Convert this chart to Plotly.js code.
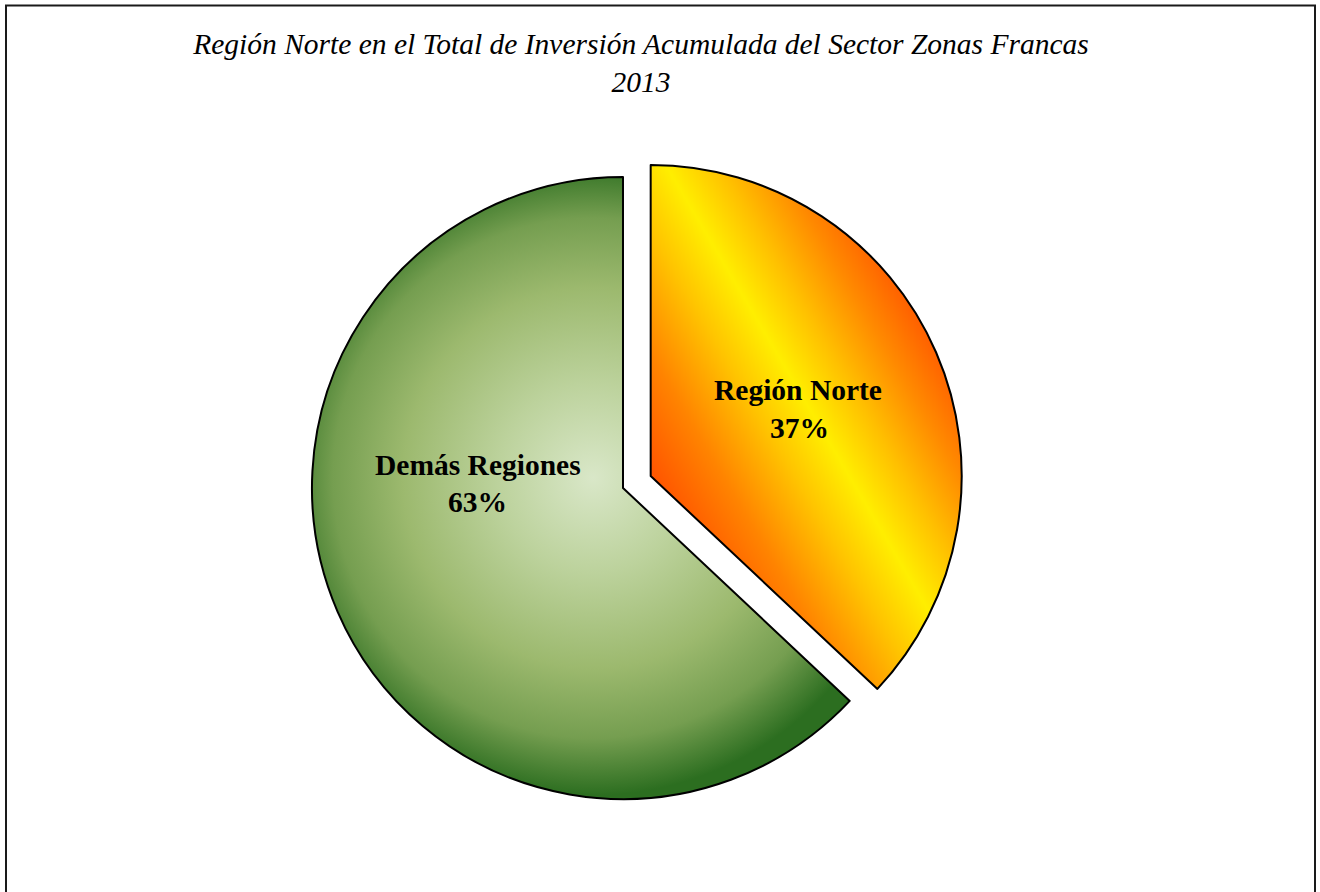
<!DOCTYPE html>
<html>
<head>
<meta charset="utf-8">
<script src="https://cdn.plot.ly/plotly-3.0.1.min.js"></script>
<style>
  html, body { margin: 0; padding: 0; background: #ffffff; }
  #chart { width: 1320px; height: 892px; }
</style>
</head>
<body>
<div id="chart"></div>
<script>
// ---- data ----
var categories = ['Región Norte', 'Demás Regiones'];
var values = [37, 63];
var titleLines = ['Región Norte en el Total de Inversión Acumulada del Sector Zonas Francas', '2013'];

// ---- style ----
var W = 1320, H = 892;
var serif = 'Liberation Serif, Times New Roman, serif';
var baseColors = ['#FFB000', '#9AB86C'];
// label anchor positions (pixels) for each category: [line1 x, line1 y, line2 x, line2 y]
var labelPos = [[798, 390, 799, 428], [478, 465, 477, 502]];

var total = values.reduce(function (a, b) { return a + b; }, 0);
var pcts = values.map(function (v) { return Math.round(v / total * 100) + '%'; });

var annotations = [];
categories.forEach(function (c, i) {
  var p = labelPos[i];
  annotations.push({ x: p[0] / W, y: 1 - p[1] / H, xref: 'paper', yref: 'paper', text: '<b>' + c + '</b>',
    showarrow: false, xanchor: 'center', yanchor: 'middle', font: { family: serif, size: 29.5, color: '#000' } });
  annotations.push({ x: p[2] / W, y: 1 - p[3] / H, xref: 'paper', yref: 'paper', text: '<b>' + pcts[i] + '</b>',
    showarrow: false, xanchor: 'center', yanchor: 'middle', font: { family: serif, size: 29.5, color: '#000' } });
});

var trace = {
  type: 'pie',
  labels: categories,
  values: values,
  sort: false,
  direction: 'clockwise',
  rotation: 0,
  pull: [0.097, 0],
  textinfo: 'none',
  hoverinfo: 'label+percent',
  marker: { colors: baseColors, line: { color: '#000000', width: 2 } },
  domain: { x: [0.21348, 0.73045], y: [0.07040, 0.83543] },
  showlegend: false
};

var layout = {
  width: W, height: H,
  margin: { l: 0, r: 0, t: 0, b: 0 },
  paper_bgcolor: '#ffffff',
  plot_bgcolor: '#ffffff',
  showlegend: false,
  title: {
    text: titleLines.join('<br>'),
    x: 0.4856, xanchor: 'center', xref: 'paper',
    y: 1 - 54 / H, yanchor: 'top', yref: 'container',
    font: { family: serif, size: 29.5, color: '#000', style: 'italic' }
  },
  annotations: annotations,
  shapes: [{
    type: 'rect', xref: 'paper', yref: 'paper',
    x0: 6 / W, x1: 1315 / W, y0: -0.05, y1: 1 - 5.5 / H,
    line: { color: '#1a1a1a', width: 2 }, fillcolor: 'rgba(0,0,0,0)', layer: 'above'
  }]
};

var gd = document.getElementById('chart');
Plotly.newPlot(gd, [trace], layout, { displayModeBar: false, staticPlot: true }).then(function () {
  try {
    var ns = 'http://www.w3.org/2000/svg';
    var svg = gd.querySelector('.main-svg');
    var defs = document.createElementNS(ns, 'defs');
    svg.insertBefore(defs, svg.firstChild);
    var cd = gd.calcdata[0];
    var cx = cd[0].cx, cy = cd[0].cy, r = cd[0].r;
    function stop(g, off, col) {
      var s = document.createElementNS(ns, 'stop');
      s.setAttribute('offset', off); s.setAttribute('stop-color', col); g.appendChild(s);
    }
    // Norte: reflected linear gradient
    var ptN = cd[0];
    var vx = cx + 0.097 * ptN.pxmid[0], vy = cy + 0.097 * ptN.pxmid[1];
    var ux = 0.861, uy = -0.508;
    var gN = document.createElementNS(ns, 'linearGradient');
    gN.setAttribute('id', 'gradNorte');
    gN.setAttribute('gradientUnits', 'userSpaceOnUse');
    gN.setAttribute('x1', vx); gN.setAttribute('y1', vy);
    gN.setAttribute('x2', vx + ux * r); gN.setAttribute('y2', vy + uy * r);
    stop(gN, 0, '#FF5400'); stop(gN, 0.2, '#FF8400'); stop(gN, 0.4, '#FFC400'); stop(gN, 0.55, '#FFEE00');
    stop(gN, 0.7, '#FFC000'); stop(gN, 0.86, '#FF8A00'); stop(gN, 1, '#FF6000');
    defs.appendChild(gN);
    // Demás: radial gradient
    var gD = document.createElementNS(ns, 'radialGradient');
    gD.setAttribute('id', 'gradDemas');
    gD.setAttribute('gradientUnits', 'userSpaceOnUse');
    gD.setAttribute('cx', cx - 30); gD.setAttribute('cy', cy - 10);
    gD.setAttribute('fx', cx - 30); gD.setAttribute('fy', cy - 10);
    gD.setAttribute('r', r * 1.02);
    stop(gD, 0, '#D9E7C8'); stop(gD, 0.3, '#BCD29C'); stop(gD, 0.6, '#9CB96E'); stop(gD, 0.82, '#759E50'); stop(gD, 1, '#2C6E20');
    defs.appendChild(gD);
    var paths = gd.querySelectorAll('g.slice path.surface');
    var ids = ['gradNorte', 'gradDemas'];
    paths.forEach(function (p, k) {
      var d = p.parentNode.__data__;
      var idx = (d && typeof d.i === 'number') ? d.i : k;
      p.style.fill = 'url(#' + ids[idx] + ')';
    });
  } catch (e) { console.log(e); }
});
</script>
</body>
</html>
